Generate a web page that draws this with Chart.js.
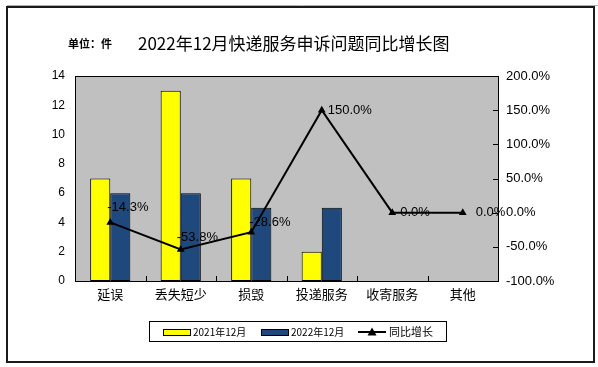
<!DOCTYPE html>
<html><head><meta charset="utf-8">
<script src="https://cdn.jsdelivr.net/npm/chart.js@4/dist/chart.umd.min.js"></script>
<style>html,body{margin:0;padding:0;background:#fff;}canvas{display:block;}</style>
</head><body>
<canvas id="c" width="598" height="367"></canvas>
<script>
const categories = ['延误', '丢失短少', '损毁', '投递服务', '收寄服务', '其他'];
const values2021 = [7, 13, 7, 2, 0, 0];
const values2022 = [6, 6, 5, 5, 0, 0];
const growthPct = [-14.3, -53.8, -28.6, 150.0, 0.0, 0.0];
const seriesNames = ['2021年12月', '2022年12月', '同比增长'];
const titleText = '2022年12月快递服务申诉问题同比增长图';
const unitText = '单位：件';

const NUM_FONT = '"Liberation Sans", Arial, sans-serif';
const CJK_FONT = '"Noto Sans CJK SC", "Liberation Sans", sans-serif';
const labelOffsets = [[-3,-15],[-4,-12],[-2,-10],[6,0],[8,0],[13,0]];

const decor = {
  id: 'decor',
  beforeDraw(chart) {
    const {ctx, chartArea: a} = chart;
    ctx.save();
    ctx.fillStyle = '#fff';
    ctx.fillRect(0, 0, chart.width, chart.height);
    ctx.strokeStyle = '#a9b3c8';
    ctx.lineWidth = 1;
    ctx.beginPath(); ctx.moveTo(7, 5.5); ctx.lineTo(598, 5.5); ctx.stroke();
    ctx.strokeStyle = '#1a1a1a';
    ctx.lineWidth = 2;
    ctx.strokeRect(7, 7, 587, 355);
    ctx.fillStyle = '#c0c0c0';
    ctx.fillRect(a.left, a.top, a.right - a.left, a.bottom - a.top);
    ctx.fillStyle = '#000';
    ctx.textBaseline = 'middle';
    ctx.textAlign = 'left';
    ctx.font = 'bold 11px ' + CJK_FONT;
    ctx.fillText(unitText, 68, 44);
    ctx.font = '17px ' + CJK_FONT;
    ctx.fillText(titleText, 138, 44);
    ctx.restore();
  },
  afterDatasetsDraw(chart) {
    const {ctx, chartArea: a, scales} = chart;
    ctx.save();
    ctx.strokeStyle = '#000';
    ctx.lineWidth = 1;
    const yR = scales.yR;
    yR.ticks.forEach(t => {
      const y = Math.round(yR.getPixelForValue(t.value)) + 0.5;
      ctx.beginPath(); ctx.moveTo(a.right - 5, y); ctx.lineTo(a.right, y); ctx.stroke();
    });
    const x = scales.x;
    for (let i = 0; i < categories.length - 1; i++) {
      const bx = Math.round((x.getPixelForValue(i) + x.getPixelForValue(i + 1)) / 2) + 0.5;
      ctx.beginPath(); ctx.moveTo(bx, a.bottom); ctx.lineTo(bx, a.bottom - 5); ctx.stroke();
    }
    ctx.strokeRect(Math.round(a.left) + 0.5, Math.round(a.top) + 0.5, Math.round(a.right - a.left), Math.round(a.bottom - a.top));
    const meta = chart.getDatasetMeta(2);
    ctx.fillStyle = '#000';
    ctx.font = '13px ' + NUM_FONT;
    ctx.textAlign = 'left';
    ctx.textBaseline = 'middle';
    meta.data.forEach((pt, i) => {
      const o = labelOffsets[i];
      ctx.fillText(growthPct[i].toFixed(1) + '%', pt.x + o[0], pt.y + o[1]);
    });
    ctx.lineWidth = 1;
    ctx.strokeStyle = '#000';
    ctx.strokeRect(149.5, 321.5, 297, 20);
    const ly = 332;
    ctx.font = '10px ' + CJK_FONT;
    ctx.textBaseline = 'middle';
    const ds = chart.data.datasets;
    ctx.fillStyle = ds[0].backgroundColor;
    ctx.fillRect(163.5, 329.5, 27, 6); ctx.strokeRect(163.5, 329.5, 27, 6);
    ctx.fillStyle = '#000'; ctx.fillText(seriesNames[0], 193, ly);
    ctx.fillStyle = ds[1].backgroundColor;
    ctx.fillRect(261.5, 329.5, 27, 6); ctx.strokeRect(261.5, 329.5, 27, 6);
    ctx.fillStyle = '#000'; ctx.fillText(seriesNames[1], 291, ly);
    ctx.lineWidth = 2;
    ctx.beginPath(); ctx.moveTo(358, ly); ctx.lineTo(386, ly); ctx.stroke();
    ctx.beginPath(); ctx.moveTo(372, ly - 4.5); ctx.lineTo(376.5, ly + 3.5); ctx.lineTo(367.5, ly + 3.5); ctx.closePath(); ctx.fill();
    ctx.font = '11px ' + CJK_FONT;
    ctx.fillText(seriesNames[2], 389, ly);
    ctx.restore();
  }
};

new Chart(document.getElementById('c'), {
  type: 'bar',
  data: {
    labels: categories,
    datasets: [
      { label: seriesNames[0], data: values2021, backgroundColor: '#ffff00', borderColor: '#000',
        borderWidth: c => (c.raw === 0 ? 0 : 1), borderSkipped: false, yAxisID: 'y', order: 1,
        categoryPercentage: 0.57, barPercentage: 1.0 },
      { label: seriesNames[1], data: values2022, backgroundColor: '#1f497d', borderColor: '#000',
        borderWidth: c => (c.raw === 0 ? 0 : 1), borderSkipped: false, yAxisID: 'y', order: 1,
        categoryPercentage: 0.57, barPercentage: 1.0 },
      { type: 'line', label: seriesNames[2], data: growthPct, yAxisID: 'yR', order: 0,
        borderColor: '#000', borderWidth: 2, backgroundColor: '#000', pointStyle: 'triangle',
        pointRadius: 4.5, pointBorderWidth: 0, tension: 0 }
    ]
  },
  options: {
    responsive: false,
    animation: false,
    devicePixelRatio: 1,
    layout: { padding: { top: 76, left: 0, right: 0, bottom: 0 } },
    plugins: { legend: { display: false }, tooltip: { enabled: false }, title: { display: false } },
    scales: {
      x: {
        grid: { display: false, drawTicks: false }, border: { display: false },
        ticks: { color: '#000', font: { family: CJK_FONT, size: 13 }, padding: 5, maxRotation: 0, autoSkip: false },
        afterFit: s => { s.height = 86; }
      },
      y: {
        position: 'left', min: 0, max: 14,
        grid: { display: false, drawTicks: false }, border: { display: false },
        ticks: { stepSize: 2, color: '#000', font: { family: NUM_FONT, size: 12 }, padding: 10 },
        afterFit: s => { s.width = 75; }
      },
      yR: {
        position: 'right', min: -100, max: 200,
        grid: { display: false, drawTicks: false }, border: { display: false },
        ticks: { stepSize: 50, color: '#000', font: { family: NUM_FONT, size: 13 }, padding: 8,
                 callback: v => Number(v).toFixed(1) + '%' },
        afterFit: s => { s.width = 100; }
      }
    }
  },
  plugins: [decor]
});
</script>
</body></html>
